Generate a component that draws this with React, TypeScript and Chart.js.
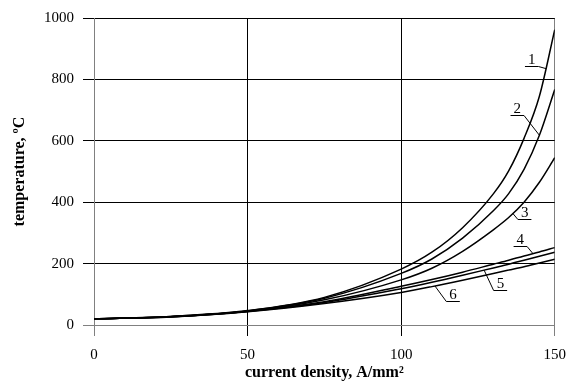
import React, { useEffect, useRef } from 'react';
import { Chart, registerables } from 'chart.js';

Chart.register(...registerables);

// current density, A/mm²
const densities = [0, 25, 50, 75, 100, 110, 120, 130, 135, 140, 145, 150];
// temperature, ºC
const curve1 = [20, 28, 47, 90, 182, 237, 317, 427, 502, 608, 745, 962];
const curve2 = [20, 28, 46, 87, 168, 215, 283, 372, 428, 507, 618, 767];
const curve3 = [20, 27, 45, 82, 147, 185, 240, 310, 350, 400, 465, 545];
const curve4 = [20, 27, 45, 76, 126, 148, 172, 198, 211, 225, 238, 252];
const curve5 = [20, 27, 44, 73, 118, 139, 162, 186, 198, 211, 224, 237];
const curve6 = [20, 26, 43, 70, 106, 125, 146, 168, 179, 190, 202, 214];
const curves = [curve1, curve2, curve3, curve4, curve5, curve6];

// curve labels (data coordinates)
const labelNames = ['1', '2', '3', '4', '5', '6'];
const labelAtX = [142.5, 137.8, 140.2, 138.8, 132.3, 116.9];
const labelAtY = [864, 703, 365, 277, 133, 99];
const leaderToX = [147.2, 145.0, 136.4, 142.9, 127.0, 111.0];
const leaderSide = ['right', 'right', 'left', 'right', 'left', 'left'];

const xTicks = [0, 50, 100, 150];
const yTicks = [0, 200, 400, 600, 800, 1000];

const FONT = "'Liberation Serif', 'Times New Roman', serif";

function curvePixelY(meta: any, px: number): number {
  const pts = meta.data;
  for (let i = 0; i < pts.length - 1; i++) {
    const p0 = pts[i];
    const p1 = pts[i + 1];
    if (px >= p0.x && px <= p1.x) {
      const c1x = p0.cp2x ?? p0.x, c1y = p0.cp2y ?? p0.y;
      const c2x = p1.cp1x ?? p1.x, c2y = p1.cp1y ?? p1.y;
      const bx = (t: number) =>
        (1 - t) ** 3 * p0.x + 3 * (1 - t) ** 2 * t * c1x + 3 * (1 - t) * t * t * c2x + t ** 3 * p1.x;
      const by = (t: number) =>
        (1 - t) ** 3 * p0.y + 3 * (1 - t) ** 2 * t * c1y + 3 * (1 - t) * t * t * c2y + t ** 3 * p1.y;
      let lo = 0, hi = 1;
      for (let k = 0; k < 40; k++) {
        const mid = (lo + hi) / 2;
        if (bx(mid) < px) lo = mid; else hi = mid;
      }
      return by((lo + hi) / 2);
    }
  }
  return pts[pts.length - 1].y;
}

const curveLabels = {
  id: 'curveLabels',
  afterDatasetsDraw(chart: any) {
    const { ctx, scales } = chart;
    const xs = scales.x, ys = scales.y;
    ctx.save();
    ctx.font = `15px ${FONT}`;
    ctx.fillStyle = '#000';
    ctx.strokeStyle = '#000';
    ctx.lineWidth = 1;
    ctx.textAlign = 'center';
    ctx.textBaseline = 'middle';
    labelNames.forEach((name, i) => {
      const px = xs.getPixelForValue(labelAtX[i]);
      const py = ys.getPixelForValue(labelAtY[i]);
      ctx.fillText(name, px, py);
      const w = ctx.measureText(name).width;
      const uy = Math.round(py + 6) + 0.5;
      const ul = px - w / 2 - 3;
      const ur = px + w / 2 + 3;
      ctx.beginPath();
      ctx.moveTo(ul, uy);
      ctx.lineTo(ur, uy);
      const tx = xs.getPixelForValue(leaderToX[i]);
      const ty = curvePixelY(chart.getDatasetMeta(i), tx);
      const sx = leaderSide[i] === 'right' ? ur : ul;
      ctx.moveTo(sx, uy);
      ctx.lineTo(tx, ty);
      ctx.stroke();
    });
    ctx.restore();
  },
};

export default function App() {
  const ref = useRef<HTMLCanvasElement | null>(null);
  useEffect(() => {
    if (!ref.current) return;
    const chart = new Chart(ref.current, {
      type: 'line',
      data: {
        datasets: curves.map((c, i) => ({
          label: labelNames[i],
          data: densities.map((d, j) => ({ x: d, y: c[j] })),
          borderColor: '#000',
          borderWidth: 1.5,
          pointRadius: 0,
          fill: false,
          cubicInterpolationMode: 'monotone' as const,
        })),
      },
      options: {
        animation: false,
        responsive: false,
        devicePixelRatio: 1,
        layout: { padding: { top: 16, right: 19, left: 0, bottom: 0 } },
        plugins: { legend: { display: false }, tooltip: { enabled: false } },
        scales: {
          x: {
            type: 'linear',
            min: 0,
            max: 150,
            afterBuildTicks: (s: any) => { s.ticks = xTicks.map((v) => ({ value: v })); },
            afterFit: (s: any) => { s.height = 58; },
            grid: {
              color: (c: any) => (c.tick && (c.tick.value === 0 || c.tick.value === 150) ? '#808080' : '#000'),
              lineWidth: 1,
              tickLength: 11,
            },
            border: { display: true, color: '#808080', width: 1 },
            ticks: {
              color: '#000',
              font: { family: FONT, size: 15 },
              padding: 10,
              maxRotation: 0,
              callback: (v: any) => String(v),
            },
            title: {
              display: true,
              text: 'current density, A/mm²',
              color: '#000',
              font: { family: FONT, size: 16, weight: 'bold' },
              padding: { top: 0, bottom: 1 },
            },
          },
          y: {
            type: 'linear',
            min: 0,
            max: 1000,
            afterBuildTicks: (s: any) => { s.ticks = yTicks.map((v) => ({ value: v })); },
            afterFit: (s: any) => { s.width = 94; },
            grid: {
              color: (c: any) => (c.tick && c.tick.value === 0 ? '#808080' : '#000'),
              lineWidth: 1,
              tickLength: 11,
            },
            border: { display: true, color: '#808080', width: 1 },
            ticks: {
              color: '#000',
              font: { family: FONT, size: 15 },
              padding: 9,
              callback: (v: any) => String(v),
            },
            title: {
              display: true,
              text: 'temperature, ºC',
              color: '#000',
              font: { family: FONT, size: 16, weight: 'bold' },
              padding: { top: 10, bottom: 0 },
            },
          },
        },
      },
      plugins: [curveLabels],
    });
    return () => chart.destroy();
  }, []);
  return (
    <div style={{ position: 'fixed', left: 0, top: 0, width: 576, height: 383, background: '#fff' }}>
      <canvas ref={ref} width={576} height={383} />
    </div>
  );
}
